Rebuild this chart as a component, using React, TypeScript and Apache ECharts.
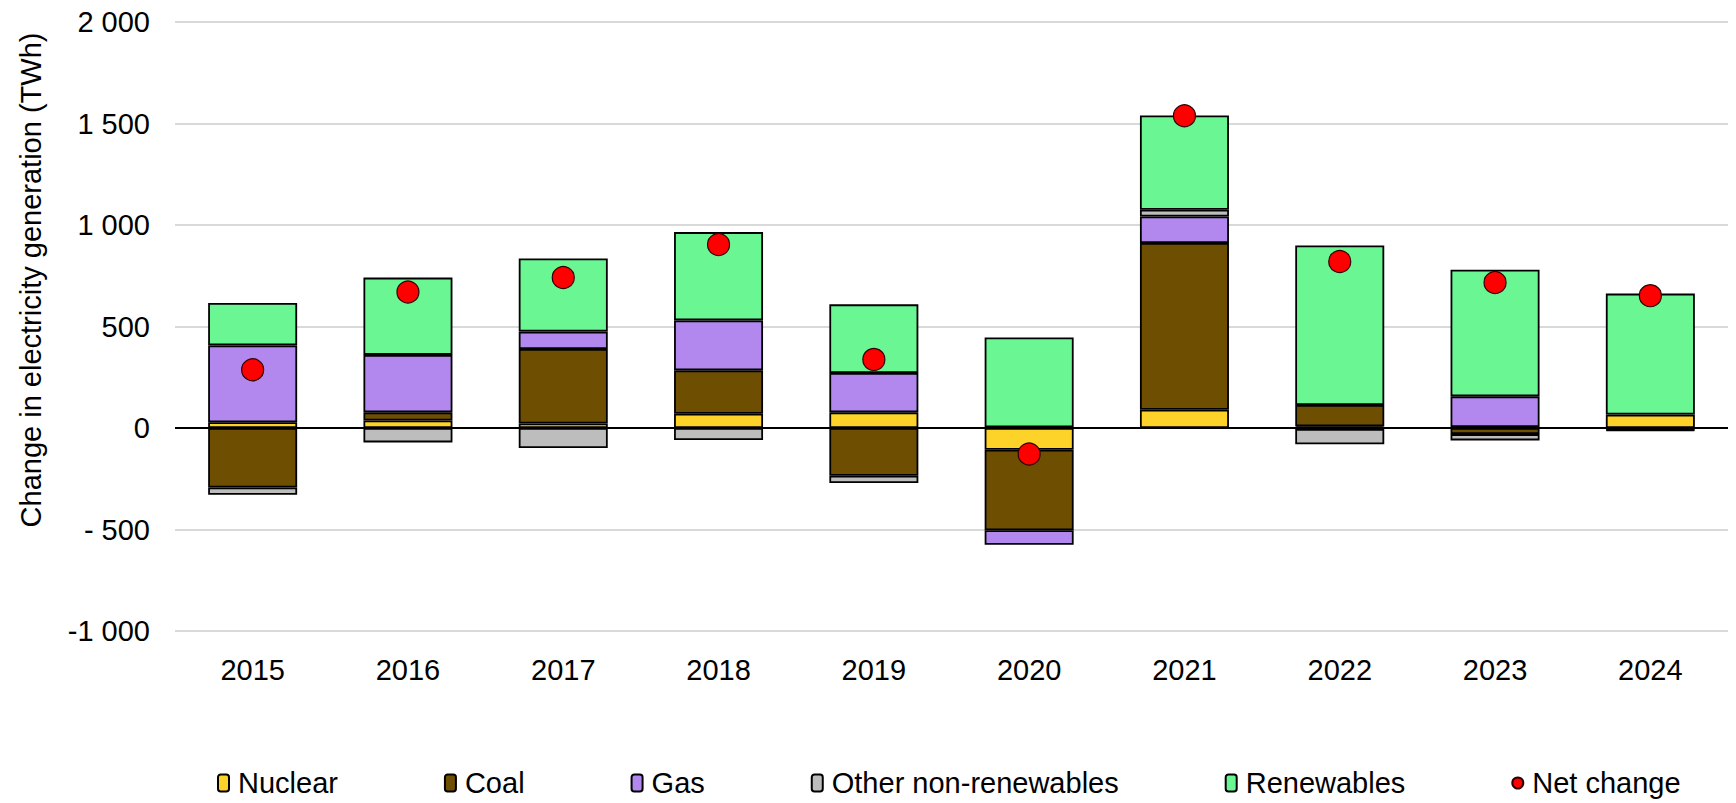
import React, { useEffect, useRef } from "react";
import * as echarts from "echarts";

const years = ["2015", "2016", "2017", "2018", "2019", "2020", "2021", "2022", "2023", "2024"];
const nuclear = [28, 37, 22, 70, 77, -107, 90, 8, 5, 66];
const coal = [-293, 40, 367, 214, -235, -397, 821, 105, -30, -6];
const gas = [379, 283, 86, 246, 194, -71, 131, -5, 151, -3];
const otherNonRenewables = [-36, -71, -99, -59, -36, 4, 33, -75, -31, -4];
const renewables = [209, 381, 360, 435, 338, 442, 465, 786, 624, 596];
const netChange = [287, 670, 741, 904, 338, -128, 1538, 820, 717, 652];

const yTickLabels: Record<string, string> = {
  "2000": "2 000",
  "1500": "1 500",
  "1000": "1 000",
  "500": "500",
  "0": "0",
  "-500": "- 500",
  "-1000": "-1 000",
};

const FONT = "'Liberation Sans', Arial, sans-serif";
const FS = 29;

export default function App() {
  const ref = useRef<HTMLDivElement>(null);
  useEffect(() => {
    if (!ref.current) return;
    const chart = echarts.init(ref.current, null, { renderer: "svg" });
    const border = { borderColor: "#000", borderWidth: 1.8 };
    const barBase = {
      type: "bar" as const,
      stack: "total",
      barWidth: 89,
    };
    chart.setOption({
      animation: false,
      textStyle: { fontFamily: FONT },
      grid: { left: 175, right: 8, top: 22, bottom: 172 },
      legend: {
        left: 212,
        top: 763,
        itemGap: 106,
        itemWidth: 11,
        itemHeight: 17,
        textStyle: {
          fontSize: FS,
          lineHeight: 30,
          color: "#000",
          fontFamily: FONT,
          padding: [0, 0, 0, 4],
        },
        data: ["Nuclear", "Coal", "Gas", "Other non-renewables", "Renewables", "Net change"],
      },
      graphic: [
        {
          type: "text",
          x: 31,
          y: 280,
          rotation: Math.PI / 2,
          style: {
            text: "Change in electricity generation (TWh)",
            fontSize: FS,
            fontFamily: FONT,
            fill: "#000",
            align: "center",
            verticalAlign: "middle",
          },
        },
      ],
      xAxis: {
        type: "category",
        data: years,
        axisLine: { show: false, onZero: false },
        axisTick: { show: false },
        axisLabel: { fontSize: FS, color: "#000", margin: 24, fontFamily: FONT },
      },
      yAxis: {
        type: "value",
        min: -1000,
        max: 2000,
        interval: 500,
        axisLine: { show: false },
        axisTick: { show: false },
        axisLabel: {
          fontSize: FS,
          color: "#000",
          margin: 25,
          fontFamily: FONT,
          formatter: (v: number) => yTickLabels[String(v)] ?? String(v),
        },
        splitLine: { lineStyle: { color: "#D9D9D9", width: 2 } },
      },
      series: [
        { ...barBase, name: "Nuclear", data: nuclear, itemStyle: { ...border, color: "#FDD229" } },
        { ...barBase, name: "Coal", data: coal, itemStyle: { ...border, color: "#6E4E00" } },
        { ...barBase, name: "Gas", data: gas, itemStyle: { ...border, color: "#B388EE" } },
        {
          ...barBase,
          name: "Other non-renewables",
          data: otherNonRenewables,
          itemStyle: { ...border, color: "#BDBDBD" },
        },
        {
          ...barBase,
          name: "Renewables",
          data: renewables,
          itemStyle: { ...border, color: "#69F693" },
          markLine: {
            silent: true,
            symbol: "none",
            label: { show: false },
            lineStyle: { color: "#000", width: 2, type: "solid" },
            data: [{ yAxis: 0 }],
          },
        },
        {
          type: "scatter",
          name: "Net change",
          data: netChange,
          symbol: "circle",
          symbolSize: 22,
          z: 5,
          itemStyle: { color: "#FF0000", opacity: 1, borderColor: "#300000", borderWidth: 1.2 },
        },
      ],
    });
    return () => chart.dispose();
  }, []);
  return (
    <div
      ref={ref}
      style={{ position: "absolute", left: 0, top: 0, width: 1736, height: 803 }}
    />
  );
}
